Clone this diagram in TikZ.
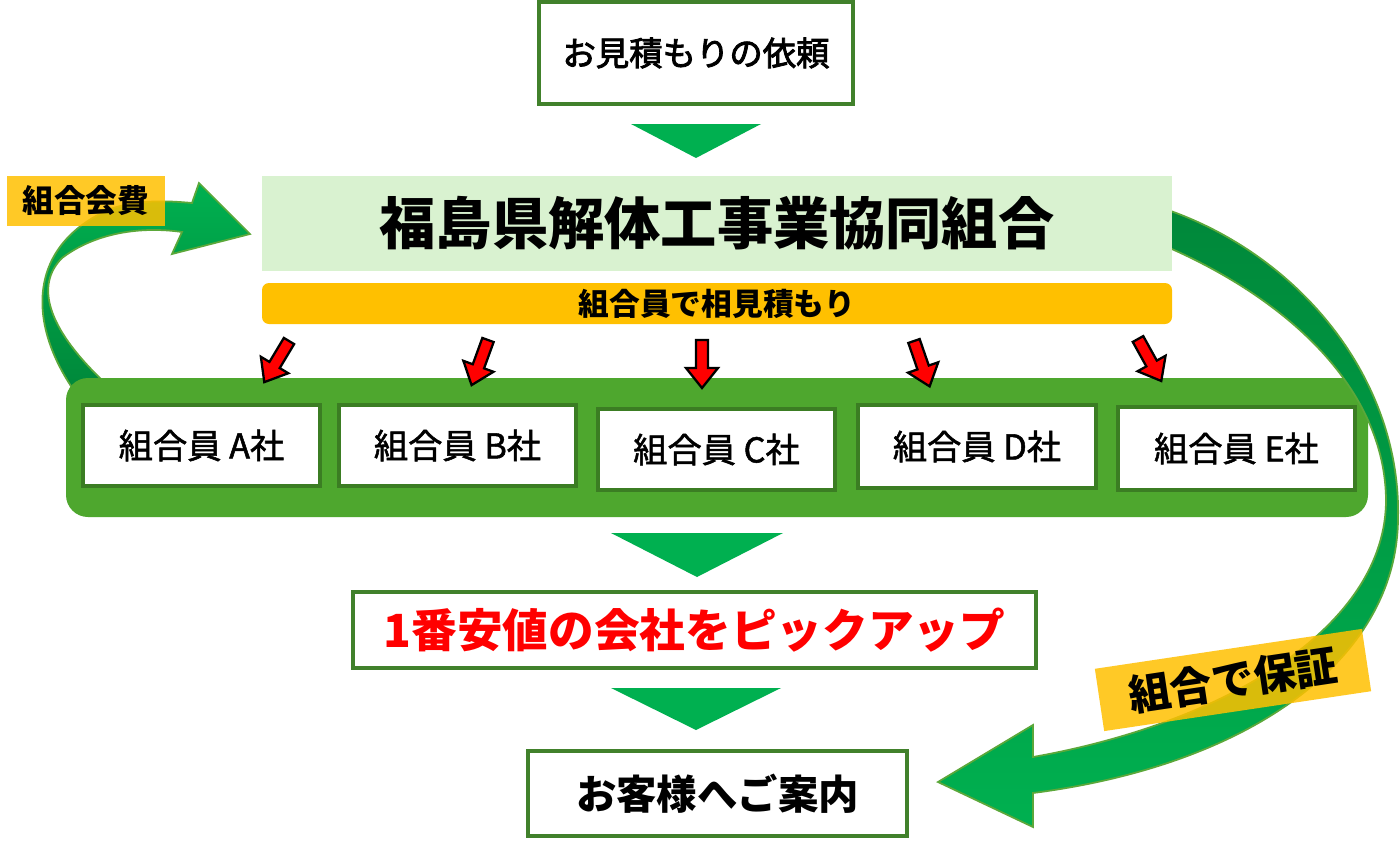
\documentclass[tikz,border=0pt]{standalone}
\usepackage{fontspec}
\setmainfont{Noto Sans CJK JP}
\newfontfamily\medfont[FakeBold=2.5]{Noto Sans CJK JP}
\newfontfamily\memfont[FakeBold=1.5]{Noto Sans CJK JP}
\usetikzlibrary{fit}
\definecolor{boxgreen}{HTML}{41812B}
\definecolor{membgreen}{HTML}{3B7D23}
\definecolor{trigreen}{HTML}{00B050}
\definecolor{darkgreen}{HTML}{00883A}
\definecolor{bandgreen}{HTML}{D9F2D0}
\definecolor{panelgreen}{HTML}{4EA72E}
\definecolor{orange}{HTML}{FFC000}
\definecolor{arrowedge}{HTML}{5BA83A}
\tikzset{
  box/.style={draw=boxgreen, line width=2pt, fill=white, inner sep=0pt},
  member/.style={draw=membgreen, line width=1.8pt, fill=white, inner sep=0pt},
  memtext/.style={font=\memfont\fontsize{19.5pt}{23pt}\selectfont, inner sep=0pt},
  tri/.style={fill=trigreen},
  tag/.style={fill=orange, fill opacity=0.85, text opacity=1, inner sep=0pt,
    font=\bfseries\fontsize{18pt}{22pt}\selectfont},
  redarrow/.pic={\draw[fill=red, draw=black, line width=1.3pt, line join=miter]
    (-6,0) -- (-6,28) -- (-16,28) -- (0,48) -- (16,28) -- (6,28) -- (6,0) -- cycle;}
}
\begin{document}
\begin{tikzpicture}[x=0.02cm,y=-0.02cm]
\useasboundingbox (0,0) rectangle (1400,845);
\fill[white] (0,0) rectangle (1400,845);

% left curved arrow (membership fee)
\path[draw=arrowedge, line width=1pt, top color=trigreen, bottom color=darkgreen]
  (75,392) .. controls (26,322) and (28,245) .. (110,209)
  .. controls (140,199) and (170,201) .. (192,203)
  -- (199,183) -- (250,234) -- (172,254) -- (182,232)
  .. controls (140,226) and (95,233) .. (62,258)
  .. controls (35,285) and (45,330) .. (115,392) -- cycle;

% green panel
\node[fill=panelgreen, rounded corners=0.44cm, inner sep=0pt,
  fit={(66,378) (1368,517)}] (panel) {};

% right curved arrow (guarantee)
\path[draw=arrowedge, line width=1pt, top color=darkgreen, middle color=darkgreen, bottom color=trigreen]
  (1165,209) .. controls (1300,255) and (1402,380) .. (1398,520)
  .. controls (1396,660) and (1250,765) .. (1033,793)
  -- (1033,827) -- (938,782) -- (1033,725) -- (1033,757)
  .. controls (1230,722) and (1386,625) .. (1386,500)
  .. controls (1385,390) and (1290,300) .. (1165,246) -- cycle;

% top request box
\node[box, fit={(539,2) (853,104)}] (req) {};
\node[inner sep=0pt, font=\medfont\fontsize{19pt}{23pt}\selectfont] (reqtext) at (req.center) {お見積もりの依頼};
\fill[tri] (631,124) -- (761,124) -- (696,158) -- cycle;

% association band
\node[fill=bandgreen, inner sep=0pt, fit={(262,176) (1172,271)}] (assoc) {};
\node[inner sep=0pt, font=\bfseries\fontsize{32pt}{38pt}\selectfont] (assoctext) at (assoc.center) {福島県解体工事業協同組合};
\node[fill=orange, rounded corners=0.14cm, inner sep=0pt, fit={(262,283) (1172,324)}] (quote) {};
\node[inner sep=0pt, font=\bfseries\fontsize{17.5pt}{21pt}\selectfont] (quotetext) at (quote.center) {組合員で相見積もり};

% red arrows
\pic[rotate=-31] at (289,341) {redarrow};
\pic[rotate=-20] at (488,340) {redarrow};
\pic at (702,340) {redarrow};
\pic[rotate=19] at (914,341) {redarrow};
\pic[rotate=29] at (1138,339) {redarrow};

% member boxes
\node[member, fit={(83,405) (320,486)}] (ma) {};
\node[member, fit={(339,405) (576,486)}] (mb) {};
\node[member, fit={(598,409) (835,490)}] (mc) {};
\node[member, fit={(858,405) (1096,488)}] (md) {};
\node[member, fit={(1118,407) (1355,490)}] (me) {};
\node[memtext] (mat) at (ma.center) {組合員 A社};
\node[memtext] (mbt) at (mb.center) {組合員 B社};
\node[memtext] (mct) at (mc.center) {組合員 C社};
\node[memtext] (mdt) at (md.center) {組合員 D社};
\node[memtext] (met) at (me.center) {組合員 E社};

\fill[tri] (611,533) -- (783,533) -- (697,577) -- cycle;

% pick-up box
\node[box, fit={(353,592) (1036,668)}] (pick) {};
\node[inner sep=0pt, text=red, font=\bfseries\fontsize{26pt}{31pt}\selectfont] (picktext) at (pick.center) {1番安値の会社をピックアップ};

\fill[tri] (611,688) -- (781,688) -- (696,730) -- cycle;

% customer box
\node[box, fit={(528,751) (907,836)}] (cust) {};
\node[inner sep=0pt, font=\bfseries\fontsize{23pt}{28pt}\selectfont] (custtext) at (cust.center) {お客様へご案内};

% labels
\node[tag, minimum width=3.16cm, minimum height=1.02cm] (fee) at (86,201) {組合会費};
\node[tag, minimum width=5.4cm, minimum height=1.26cm, rotate=8.5,
  font=\bfseries\fontsize{24pt}{28pt}\selectfont] (guar) at (1233,680) {組合で保証};
\end{tikzpicture}
\end{document}
